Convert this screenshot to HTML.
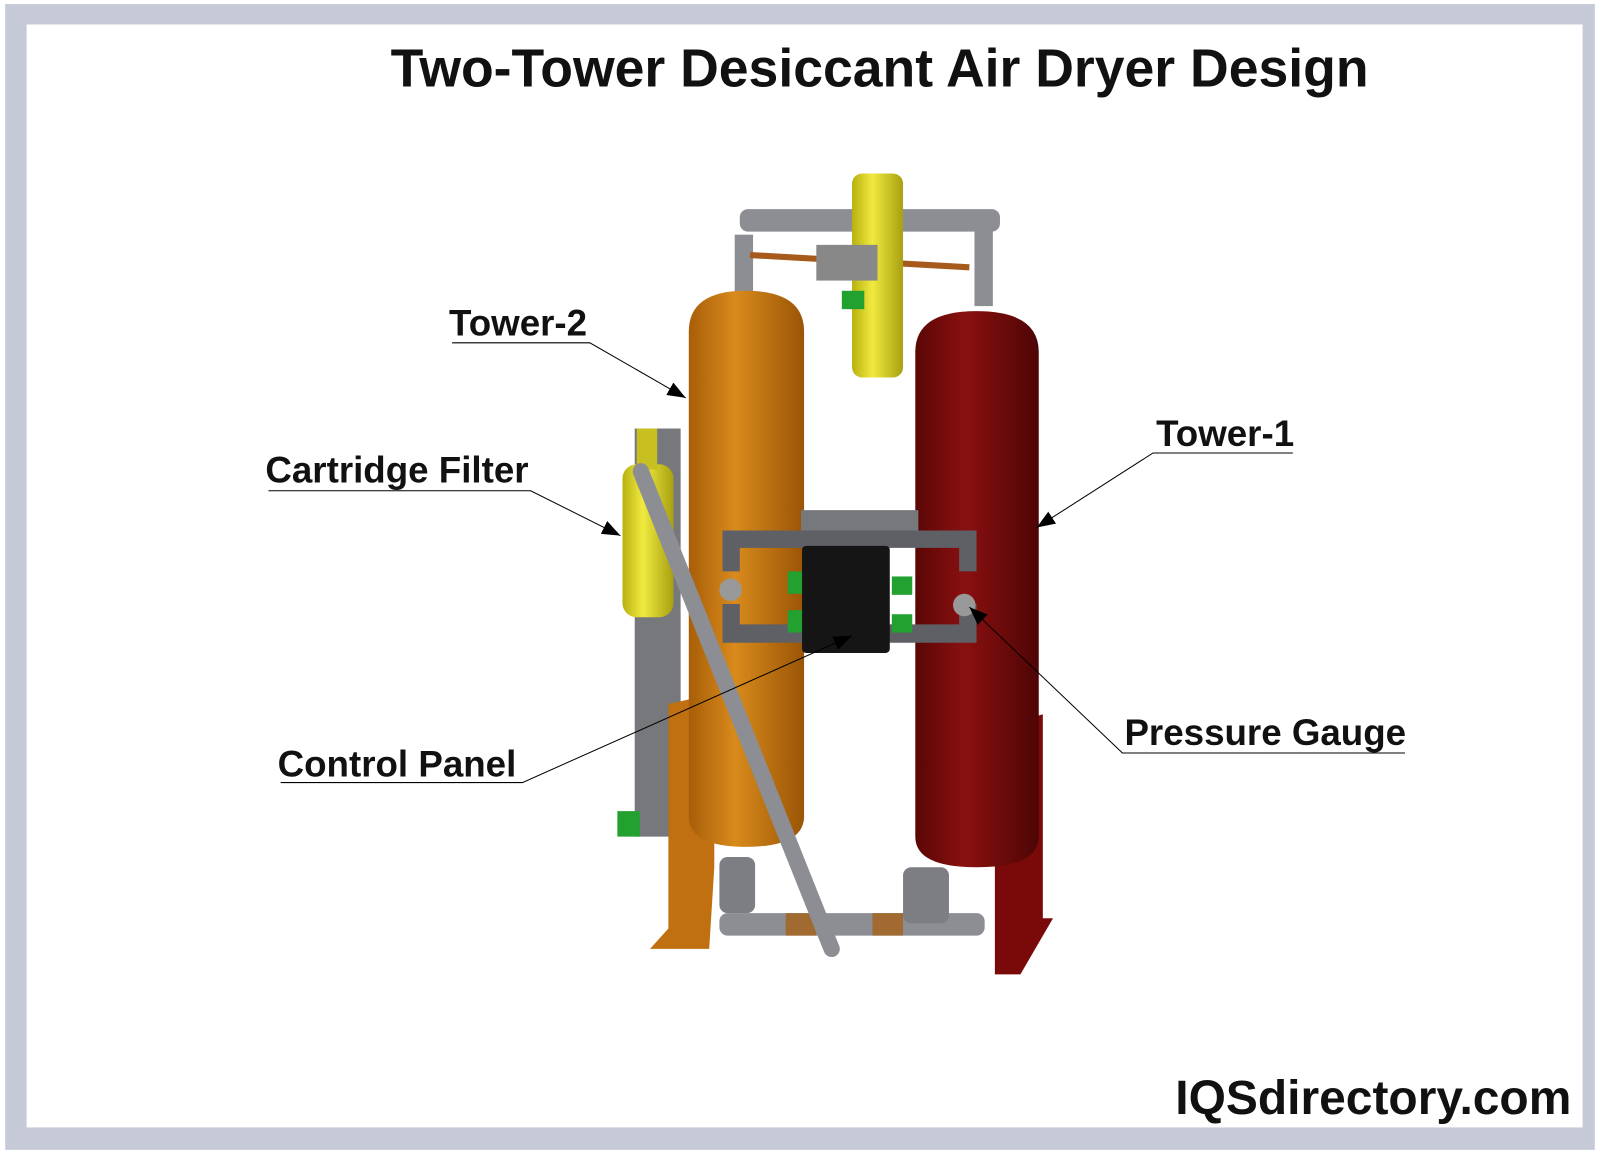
<!DOCTYPE html>
<html><head><meta charset="utf-8"><style>
html,body{margin:0;padding:0;background:#fff;width:1600px;height:1157px;overflow:hidden}
svg{display:block}
text{font-family:"Liberation Sans",sans-serif;font-weight:bold;fill:#111}
</style></head><body>
<svg width="1600" height="1157" viewBox="0 0 1568 1134" xmlns="http://www.w3.org/2000/svg">
<defs>
<linearGradient id="og" x1="0" x2="1"><stop offset="0" stop-color="#a85e08"/><stop offset="0.4" stop-color="#d88a1c"/><stop offset="1" stop-color="#9a5506"/></linearGradient>
<linearGradient id="rg" x1="0" x2="1"><stop offset="0" stop-color="#5a0606"/><stop offset="0.4" stop-color="#8a1010"/><stop offset="1" stop-color="#4e0505"/></linearGradient>
<linearGradient id="yg" x1="0" x2="1"><stop offset="0" stop-color="#b8b010"/><stop offset="0.4" stop-color="#f0ea40"/><stop offset="1" stop-color="#a8a010"/></linearGradient>
<marker id="ar" viewBox="0 0 18 14" refX="18" refY="7" markerWidth="18" markerHeight="14" markerUnits="userSpaceOnUse" orient="auto"><path d="M0,0 L18,7 L0,14 z" fill="#000"/></marker>
</defs>
<rect x="5" y="4" width="1558" height="1123" fill="#c6cad6"/>
<rect x="26" y="24" width="1525" height="1081" fill="#fff"/>
<text x="862" y="85" font-size="52.5" text-anchor="middle">Two-Tower Desiccant Air Dryer Design</text>
<rect x="622" y="420" width="45" height="400" fill="#77787c"/>
<path d="M655 690 L700 680 L700 850 L695 930 L637 930 L655 910 Z" fill="#c07010"/>
<path d="M990 710 L1022 700 L1022 900 L1032 900 L1000 955 L975 955 L975 840 Z" fill="#7a0a0a"/>
<rect x="725" y="205" width="255" height="22" rx="8" fill="#8c8e94"/>
<rect x="720" y="230" width="18" height="60" fill="#8c8e94"/>
<rect x="955" y="225" width="18" height="75" fill="#8c8e94"/>
<path d="M735 250 L950 262" stroke="#a65a1c" stroke-width="6" fill="none"/>
<rect x="835" y="170" width="50" height="200" rx="10" fill="url(#yg)"/>
<rect x="800" y="240" width="60" height="35" fill="#888"/>
<rect x="825" y="285" width="22" height="18" fill="#22a030"/>
<path d="M675 325 Q675 285 731 285 Q788 285 788 325 L788 800 Q788 830 731 830 Q675 830 675 800 Z" fill="url(#og)"/>
<path d="M897 345 Q897 305 957 305 Q1018 305 1018 345 L1018 820 Q1018 850 957 850 Q897 850 897 820 Z" fill="url(#rg)"/>
<rect x="610" y="455" width="50" height="150" rx="14" fill="url(#yg)"/>
<rect x="624" y="420" width="20" height="40" fill="#c8c020"/>
<rect x="605" y="795" width="22" height="25" fill="#22a030"/>
<rect x="785" y="500" width="115" height="20" fill="#77787c"/>
<path d="M708 520 L957 520 L957 560 L940 560 L940 537 L725 537 L725 560 L708 560 Z" fill="#5e6066"/>
<path d="M708 592 L725 592 L725 612 L940 612 L940 592 L957 592 L957 630 L708 630 Z" fill="#5e6066"/>
<circle cx="716" cy="578" r="11" fill="#999"/>
<circle cx="945" cy="593" r="11" fill="#999"/>
<rect x="786" y="535" width="86" height="105" rx="4" fill="#151515"/>
<rect x="772" y="560" width="14" height="22" fill="#22a030"/><rect x="772" y="598" width="14" height="22" fill="#22a030"/>
<rect x="874" y="565" width="20" height="18" fill="#22a030"/><rect x="874" y="602" width="20" height="18" fill="#22a030"/>
<rect x="705" y="895" width="260" height="22" rx="8" fill="#8c8e94"/>
<rect x="705" y="840" width="35" height="55" rx="8" fill="#7c7e84"/>
<rect x="885" y="850" width="45" height="55" rx="8" fill="#7c7e84"/>
<rect x="770" y="895" width="30" height="22" fill="#a06a30"/><rect x="855" y="895" width="30" height="22" fill="#a06a30"/>
<line x1="628" y1="462" x2="815" y2="930" stroke="#8c8e94" stroke-width="16" stroke-linecap="round"/>
<g stroke="#000" stroke-width="1" fill="none">
<polyline points="443,336 578,336 672,390" marker-end="url(#ar)"/>
<polyline points="263,481 520,481 608,525" marker-end="url(#ar)"/>
<polyline points="1267,444 1130,444 1016,517" marker-end="url(#ar)"/>
<polyline points="275,767 512,767 835,623" marker-end="url(#ar)"/>
<polyline points="1377,738 1100,738 950,595" marker-end="url(#ar)"/>
</g>
<text x="440" y="329" font-size="36">Tower-2</text>
<text x="260" y="473" font-size="36">Cartridge Filter</text>
<text x="1133" y="437" font-size="36">Tower-1</text>
<text x="272" y="761" font-size="36">Control Panel</text>
<text x="1102" y="730" font-size="36">Pressure Gauge</text>
<text x="1540" y="1092" font-size="47" text-anchor="end">IQSdirectory.com</text>
</svg>
</body></html>
